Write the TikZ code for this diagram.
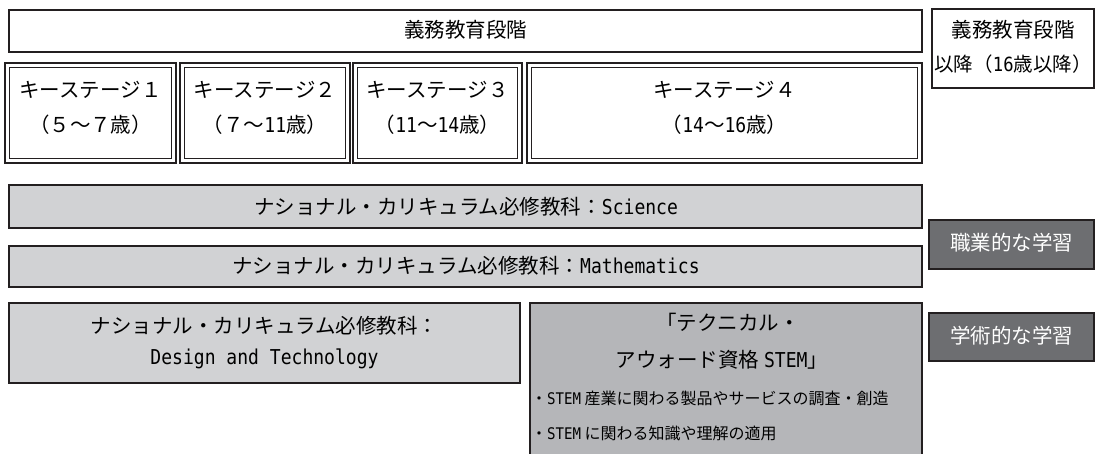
\documentclass[tikz,border=0pt]{standalone}
\usepackage{fontspec}
\setmainfont{Noto Sans CJK JP}
\newfontfamily\en[FakeStretch=0.88]{DejaVu Sans Mono}
\usetikzlibrary{fit}
\definecolor{bd}{HTML}{231F20}
\definecolor{lgray}{HTML}{D1D2D4}
\definecolor{mgray}{HTML}{B5B6B9}
\definecolor{dgray}{HTML}{6D6E71}
\begin{document}
\begin{tikzpicture}[x=1pt,y=-1pt,
  frame/.style={draw=bd, line width=1.6pt, inner sep=0pt, outer sep=0pt},
  dblout/.style={draw=bd, line width=2.4pt, inner sep=0pt, outer sep=0pt},
  dblin/.style={draw=bd, line width=1.3pt},
  lbar/.style={frame, fill=lgray},
  mbox/.style={frame, fill=mgray},
  dbox/.style={frame, fill=dgray},
  txt/.style={inner sep=0pt, font=\fontsize{20.5}{24}\selectfont},
  wtxt/.style={txt, text=white},
  small/.style={inner sep=0pt, anchor=west, font=\fontsize{16}{19}\selectfont},
]
\useasboundingbox (0,0) rectangle (1096,454);
\clip (0,0) rectangle (1096,454);

% top row
\node[frame, fit={(9,10) (922,52)}] (compulsory) {};
\node[txt] (comptxt) at (465.5,30) {義務教育段階};
\node[frame, fit={(932,9) (1094,88)}] (after) {};
\node[txt] (after1) at (1013,30) {義務教育段階};
\node[txt, font=\fontsize{19.5}{23}\selectfont] (after2) at (1013,64) {以降（{\en 16}歳以降）};

% key stages
\node[dblout, fit={(5,63) (176,163)}] (ks1) {};
\node[dblout, fit={(180,63) (350,163)}] (ks2) {};
\node[dblout, fit={(353,63) (522,163)}] (ks3) {};
\node[dblout, fit={(527,63) (922,163)}] (ks4) {};
\foreach \k in {ks1,ks2,ks3,ks4}{
  \draw[dblin] ([shift={(4.6,4.6)}]\k.north west) rectangle ([shift={(-4.6,-4.6)}]\k.south east);
}
\node[txt] (ks1a) at (90.5,90) {キーステージ１};
\node[txt] (ks1b) at (90.5,125) {（５～７歳）};
\node[txt] (ks2a) at (265,90) {キーステージ２};
\node[txt] (ks2b) at (265,125) {（７～{\en 11}歳）};
\node[txt] (ks3a) at (437.5,90) {キーステージ３};
\node[txt] (ks3b) at (437.5,125) {（{\en 11}～{\en 14}歳）};
\node[txt] (ks4a) at (724.5,90) {キーステージ４};
\node[txt] (ks4b) at (724.5,125) {（{\en 14}～{\en 16}歳）};

% subject bars
\node[lbar, fit={(9,185) (922,228)}] (sci) {};
\node[txt] (scitxt) at (466,207) {ナショナル・カリキュラム必修教科：{\en Science}};
\node[lbar, fit={(9,246) (922,287)}] (math) {};
\node[txt] (mathtxt) at (466,266) {ナショナル・カリキュラム必修教科：{\en Mathematics}};
\node[lbar, fit={(9,303) (520,383)}] (dt) {};
\node[txt] (dt1) at (264.5,326) {ナショナル・カリキュラム必修教科：};
\node[txt] (dt2) at (264.5,359) {\en Design and Technology};

% STEM
\node[mbox, fit={(530,303) (922,470)}] (stem) {};
\node[txt] (stem1) at (728,322) {「テクニカル・};
\node[txt] (stem2) at (722,360) {アウォード資格 {\en STEM}」};
\node[small] (stem3) at (531,398) {・{\en STEM} 産業に関わる製品やサービスの調査・創造};
\node[small] (stem4) at (531,433) {・{\en STEM} に関わる知識や理解の適用};

% right labels
\node[dbox, fit={(929,220) (1094,269)}] (voc) {};
\node[wtxt] (voctxt) at (1011.5,243) {職業的な学習};
\node[dbox, fit={(929,313) (1094,361)}] (acad) {};
\node[wtxt] (acadtxt) at (1011.5,336) {学術的な学習};
\end{tikzpicture}
\end{document}
